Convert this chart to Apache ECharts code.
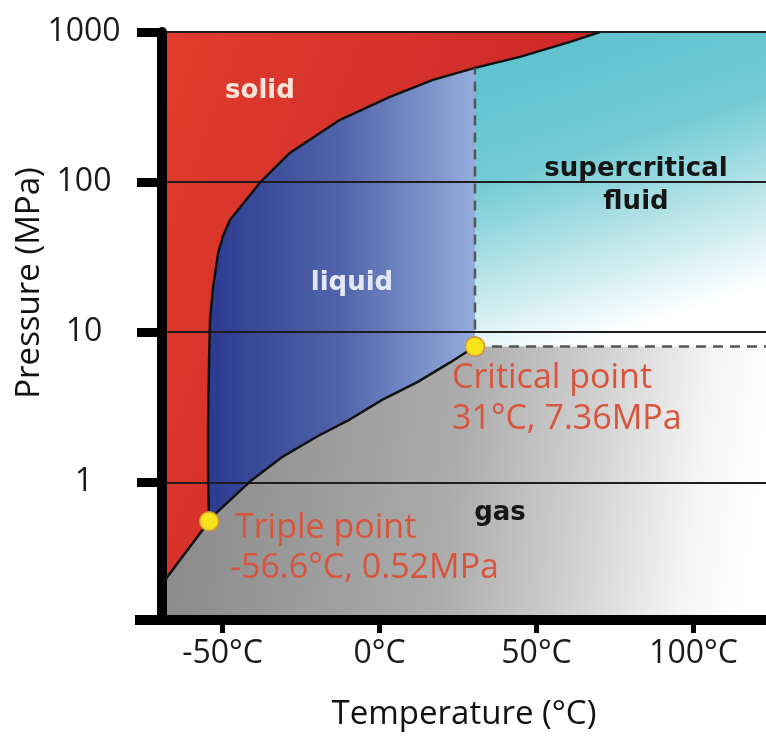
<!DOCTYPE html>
<html><head><meta charset="utf-8">
<script src="https://cdn.jsdelivr.net/npm/echarts@6/dist/echarts.min.js"></script>
<style>html,body{margin:0;padding:0;background:#fff}#c{width:766px;height:736px}</style>
</head><body><div id="c"></div>
<script>
// ---- data (temperature °C, pressure MPa) ----
const xTickValues = [-50, 0, 50, 100];
const tempRange = [-69.3, 123.1];
const pressureRange = [0.121, 1000];
const triplePoint = [-54.3, 0.55];
const criticalPoint = [30.4, 8.03];
const sublimationCurve = [[-69.3, 0.21], [-61.0, 0.358], [-54.3, 0.55]];
const meltingCurve = [[-54.3, 0.55], [-54.6, 1.05], [-54.6, 2.63], [-54.3, 6.58], [-54.0, 12.1], [-53.0, 20.1],
  [-51.4, 33.9], [-49.8, 44.0], [-47.6, 56.2], [-38.1, 99.1], [-28.5, 157], [-12.6, 260], [3.3, 370],
  [17.0, 480], [30.4, 577], [44.7, 683], [60.7, 860], [70.2, 1000]];
const vaporCurve = [[-54.3, 0.55], [-51.8, 0.631], [-41.2, 1.015], [-30.7, 1.49], [-19.9, 2.02], [-9.4, 2.63],
  [1.1, 3.57], [11.9, 4.63], [22.5, 6.29], [30.4, 8.03]];
const criticalLabelBox = [[23.1, 6.48], [90.3, 3.73]];

// ---- derived polygons ----
const xmin = tempRange[0], xmax = tempRange[1], ymin = pressureRange[0], ymax = pressureRange[1];
const Tc = criticalPoint[0], Pc = criticalPoint[1];
const meltLow = meltingCurve.filter(p => p[0] <= Tc);
const meltHigh = meltingCurve.filter(p => p[0] >= Tc);
const meltAtTc = meltLow[meltLow.length - 1];
const solidPoly = [[xmin, ymax]].concat(meltingCurve.slice().reverse(), sublimationCurve.slice().reverse());
const liquidPoly = meltLow.concat([criticalPoint], vaporCurve.slice().reverse());
const superPoly = meltHigh.concat([[xmax, ymax], [xmax, Pc], [Tc, Pc]]);
const gasPoly = sublimationCurve.concat(vaporCurve, [[xmax, Pc], [xmax, ymin], [xmin, ymin]]);

const LG = echarts.graphic.LinearGradient;
function polySeries(points, fill, z) {
  return {
    type: 'custom', coordinateSystem: 'cartesian2d', silent: true, z: z, data: [[0, 1]],
    renderItem: (params, api) => ({
      type: 'polygon', shape: { points: points.map(p => api.coord(p)) }, style: { fill: fill }
    })
  };
}
function lineSeries(data, style, z, extra) {
  return Object.assign({ type: 'line', data: data, showSymbol: false, symbol: 'none', silent: true, z: z,
    lineStyle: style, animation: false }, extra || {});
}

const chart = echarts.init(document.getElementById('c'), null, { renderer: 'canvas' });
const annoColor = '#d8553c';
const regionFont = 'bold 26px "DejaVu Sans"';

const graphics = [
  { type: 'text', x: 30, y: 283, rotation: Math.PI / 2, z: 50,
    style: { text: 'Pressure (MPa)', font: '33px "Open Sans"', fill: '#111', align: 'center', verticalAlign: 'middle' } },
  { type: 'text', x: 260, y: 91, z: 50, style: { text: 'solid', font: regionFont, fill: '#f5e4da', align: 'center', verticalAlign: 'middle' } },
  { type: 'text', x: 352, y: 283, z: 50, style: { text: 'liquid', font: regionFont, fill: '#e4e8f4', align: 'center', verticalAlign: 'middle' } },
  { type: 'text', x: 636, y: 169, z: 50, style: { text: 'supercritical', font: regionFont, fill: '#161616', align: 'center', verticalAlign: 'middle' } },
  { type: 'text', x: 636, y: 202, z: 50, style: { text: 'fluid', font: regionFont, fill: '#161616', align: 'center', verticalAlign: 'middle' } },
  { type: 'text', x: 500, y: 513, z: 50, style: { text: 'gas', font: regionFont, fill: '#161616', align: 'center', verticalAlign: 'middle' } },
  { type: 'text', x: 452, y: 378, z: 50, style: { text: 'Critical point', font: '34px "Open Sans"', fill: annoColor, align: 'left', verticalAlign: 'middle' } },
  { type: 'text', x: 452, y: 419, z: 50, style: { text: '31°C, 7.36MPa', font: '34px "Open Sans"', fill: annoColor, align: 'left', verticalAlign: 'middle' } },
  { type: 'text', x: 235, y: 528, z: 50, style: { text: 'Triple point', font: '34px "Open Sans"', fill: annoColor, align: 'left', verticalAlign: 'middle' } },
  { type: 'text', x: 230, y: 568, z: 50, style: { text: '-56.6°C, 0.52MPa', font: '34px "Open Sans"', fill: annoColor, align: 'left', verticalAlign: 'middle' } }
];

chart.setOption({
  animation: false,
  backgroundColor: '#ffffff',
  grid: { left: 162, right: 0, top: 32, bottom: 114, containLabel: false },
  xAxis: {
    type: 'value', min: xmin, max: xmax, z: 3,
    axisLine: { onZero: false, lineStyle: { color: '#000', width: 10 } },
    axisTick: { customValues: xTickValues, length: 13, lineStyle: { color: '#000', width: 5 } },
    axisLabel: { customValues: xTickValues, formatter: v => v + '°C', margin: 18,
      fontFamily: 'Open Sans', fontSize: 32, color: '#1a1a1a' },
    splitLine: { show: false },
    name: 'Temperature (°C)', nameLocation: 'middle', nameGap: 78,
    nameTextStyle: { fontFamily: 'Open Sans', fontSize: 33, color: '#111' }
  },
  yAxis: {
    type: 'log', logBase: 10, min: ymin, max: ymax, z: 3,
    axisLine: { onZero: false, lineStyle: { color: '#000', width: 10 } },
    axisTick: { length: 25, lineStyle: { color: '#000', width: 9 } },
    axisLabel: { showMinLabel: false, formatter: v => (v >= 1 ? String(Math.round(v)) : ''),
      align: 'center', margin: 78, fontFamily: 'Open Sans', fontSize: 32, color: '#1a1a1a' },
    splitLine: { show: true, lineStyle: { color: '#1e1e1e', width: 2 } }
  },
  series: [
    polySeries(solidPoly, new LG(0, 0, 1, 0.3, [{ offset: 0, color: '#e23c2d' }, { offset: 1, color: '#c92628' }]), 1),
    polySeries(liquidPoly, new LG(0, 0, 1, 0, [{ offset: 0, color: '#2c3b91' }, { offset: 0.5, color: '#5264ab' }, { offset: 1, color: '#93acdb' }]), 1),
    polySeries(superPoly, new LG(0, 0, 0.35, 1, [{ offset: 0, color: '#57bfcc' }, { offset: 0.45, color: '#74cbd5' }, { offset: 1, color: '#ffffff' }]), 1),
    polySeries(gasPoly, new LG(0, 0, 1, 0.3, [{ offset: 0, color: '#878787' }, { offset: 0.5, color: '#ababab' }, { offset: 0.7, color: '#cdcdcd' }, { offset: 0.9, color: '#f4f4f4' }, { offset: 1, color: '#ffffff' }]), 1),
    lineSeries(sublimationCurve, { color: '#111', width: 2.5 }, 4),
    lineSeries(meltingCurve, { color: '#111', width: 2.5 }, 4),
    lineSeries(vaporCurve, { color: '#111', width: 2.5 }, 4),
    lineSeries([criticalPoint, meltAtTc], { color: '#555', width: 2.5, type: [10, 7] }, 4),
    lineSeries([criticalPoint, [xmax, Pc]], { color: '#555', width: 2.5, type: [10, 7] }, 4, {
      markArea: { silent: true, itemStyle: { color: 'rgba(0,0,0,0.16)' },
        data: [[{ coord: criticalLabelBox[0] }, { coord: criticalLabelBox[1] }]] }
    }),
    { type: 'scatter', data: [triplePoint, criticalPoint], symbolSize: 19, z: 6, silent: true,
      itemStyle: { color: '#f8e21c', borderColor: '#d9952b', borderWidth: 1.5, opacity: 1 } }
  ],
  graphic: graphics
});

// extend the bottom axis line a little to the left of the y axis, as in the original
const corner = chart.convertToPixel({ gridIndex: 0 }, [xmin, ymin]);
chart.setOption({
  graphic: graphics.concat([{ type: 'line', z: 60,
    shape: { x1: corner[0] - 27, y1: corner[1], x2: corner[0], y2: corner[1] },
    style: { stroke: '#000', lineWidth: 10 } }])
});
</script></body></html>
